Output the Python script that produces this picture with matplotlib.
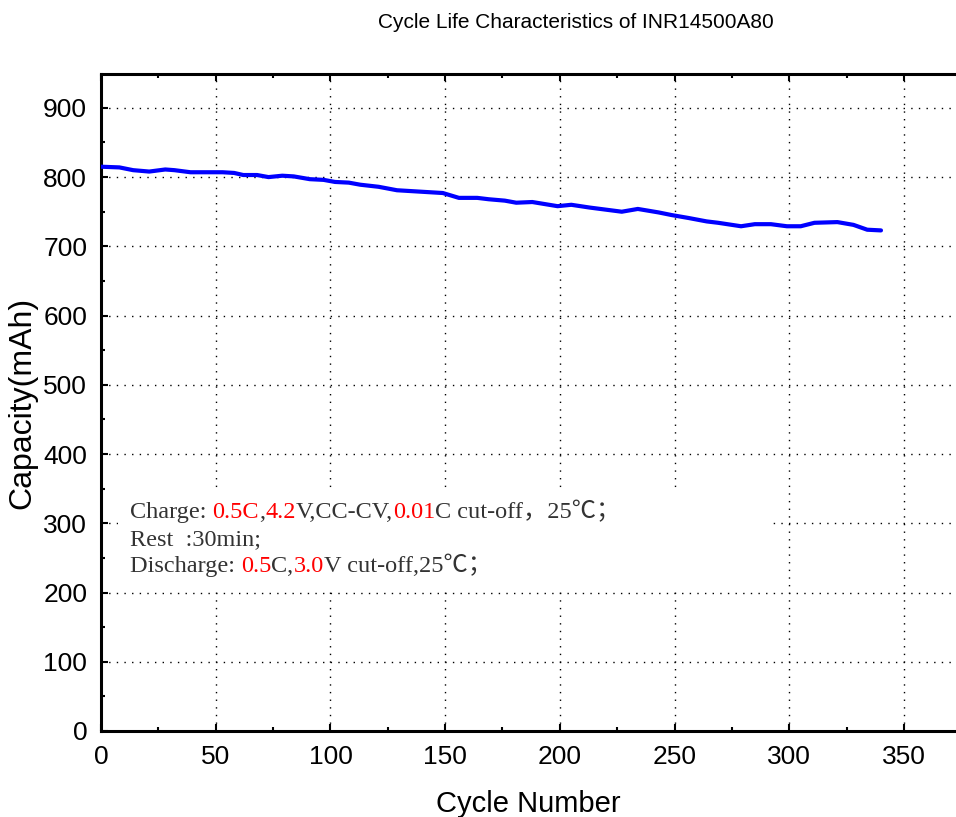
import matplotlib.pyplot as plt
from matplotlib.patches import Rectangle
from matplotlib.ticker import MultipleLocator

cycles = [0, 8, 14, 21, 28, 32, 39, 45, 53, 58, 62, 68, 73, 79, 84, 91, 97, 102,
          108, 113, 121, 129, 139, 149, 156, 164, 169, 176, 181, 188, 199, 205,
          213, 220, 227, 234, 243, 249, 256, 264, 269, 279, 285, 292, 299, 305,
          311, 321, 328, 334, 340]
capacity = [815, 814, 810, 808, 811, 810, 807, 807, 807, 806, 803, 803, 800, 802,
            801, 797, 796, 793, 792, 789, 786, 781, 779, 777, 770, 770, 768, 766,
            763, 764, 758, 760, 756, 753, 750, 754, 749, 745, 741, 736, 734, 729,
            732, 732, 729, 729, 734, 735, 731, 724, 723]

x_ticks = [0, 50, 100, 150, 200, 250, 300, 350]
y_ticks = [0, 100, 200, 300, 400, 500, 600, 700, 800, 900]

# condition note, (text, colour) pieces per line
note_lines = [
    [("Charge: ", "#333333"), ("0.5C", "red"), (",", "#333333"), ("4.2", "red"),
     ("V,CC-CV,", "#333333"), ("0.01", "red"), ("C cut-off，25℃；", "#333333")],
    [("Rest  :30min;", "#333333")],
    [("Discharge: ", "#333333"), ("0.5", "red"), ("C,", "#333333"), ("3.0", "red"),
     ("V cut-off,25℃；", "#333333")],
]

plt.rcParams['font.family'] = ['Liberation Sans', 'DejaVu Sans']

fig = plt.figure(figsize=(9.56, 8.17), dpi=100)
ax = fig.add_axes([0.1057, 0.1053, 0.8943, 0.8042])

ax.plot(cycles, capacity, color='#0000ff', lw=3, zorder=3,
        solid_joinstyle='round', solid_capstyle='round')

ax.set_xlim(0, 372.7)
ax.set_ylim(0, 949)
ax.set_xticks(x_ticks)
ax.set_yticks(y_ticks)
ax.xaxis.set_minor_locator(MultipleLocator(25))
ax.yaxis.set_minor_locator(MultipleLocator(50))
ax.tick_params(which='both', direction='in', top=True, right=False, width=1.5)
ax.tick_params(which='major', length=5, pad=10, labelsize=19)
ax.tick_params(which='minor', length=3)

ax.set_axisbelow(True)
ax.grid(True, which='major', color='black', lw=1.0, linestyle=(0, (1, 4.5)))

for side in ['left', 'bottom', 'top']:
    ax.spines[side].set_linewidth(2.2)
ax.spines['right'].set_visible(False)

ax.set_xlabel('Cycle Number', fontsize=21, labelpad=15)
ax.set_ylabel('Capacity(mAh)', fontsize=23, labelpad=4)

fig.text(0.6025, 0.973, 'Cycle Life Characteristics of INR14500A80',
         fontsize=15, ha='center', va='center')

# white panel behind the note
ax.add_patch(Rectangle((7.4, 206.6), 284.2, 137.4, facecolor='white',
                       edgecolor='none', zorder=1))

note_font = ['Liberation Serif', 'Noto Sans CJK SC', 'DejaVu Serif']
line_y = [316, 276, 238]
for pieces, y in zip(note_lines, line_y):
    prev = None
    for s, c in pieces:
        if prev is None:
            prev = ax.text(12.6, y, s, color=c, fontsize=17.5, family=note_font,
                           va='center', ha='left', zorder=4)
        else:
            prev = ax.annotate(s, xy=(1, 0), xycoords=prev, va='bottom',
                               ha='left', color=c, fontsize=17.5,
                               family=note_font, zorder=4)

fig.savefig('out.png', dpi=100)
